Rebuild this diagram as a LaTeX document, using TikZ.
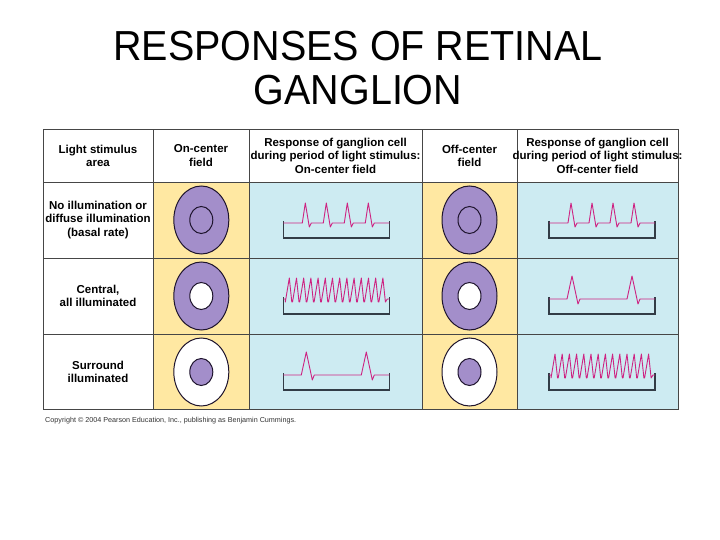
\documentclass[tikz,border=0pt]{standalone}
\usepackage{fontspec}
\setmainfont{Liberation Sans}
\usepackage{xcolor}
\usepackage{tikz}
\usetikzlibrary{shapes.geometric}

\definecolor{cellyellow}{RGB}{255,232,162}
\definecolor{cellblue}{RGB}{205,235,242}
\definecolor{cellpurple}{RGB}{163,142,202}
\definecolor{gridgray}{RGB}{70,70,70}
\definecolor{ringline}{RGB}{30,20,45}
\definecolor{spikepink}{RGB}{205,35,130}
\definecolor{axisgray}{RGB}{50,60,70}

\begin{document}
\begin{tikzpicture}[
    x=1pt, y=-1pt,
    head/.style={font=\fontsize{11.5}{13.6}\selectfont\bfseries, align=center, inner sep=0pt},
    rowtext/.style={head},
    ring/.style={ellipse, draw=ringline, line width=1pt, inner sep=0pt,
                 minimum width=55pt, minimum height=68pt},
    core/.style={ellipse, draw=ringline, line width=1pt, inner sep=0pt,
                 minimum width=23pt, minimum height=27pt},
    grid/.style={draw=gridgray, line width=0.8pt},
    axis/.style={draw=axisgray, line width=1.2pt},
    trace/.style={draw=spikepink, line width=0.9pt, line join=round},
    basal/.pic={
        \draw[axis] (0,1) -- (0,18) -- (106,18) -- (106,1);
        \draw[trace] (0,3) foreach \s in {22,43,64,85} {
            -- (\s-3,3) -- (\s,-17) -- (\s+4,7) -- (\s+6,3) } -- (106,3);
    },
    sparse/.pic={
        \draw[axis] (0,1) -- (0,18) -- (106,18) -- (106,1);
        \draw[trace] (0,3) foreach \s in {23,83} {
            -- (\s-5,3) -- (\s,-20) -- (\s+6,8) -- (\s+8,3) } -- (106,3);
    },
    burst/.pic={
        \draw[axis] (0,1) -- (0,18) -- (106,18) -- (106,1);
        \draw[trace] (0,3) -- (2,3) foreach \i in {0,...,13} {
            -- ({6+7.2*\i-4},6) -- ({6+7.2*\i},-18) -- ({6+7.2*\i+2.5},6) }
            -- (104,3) -- (106,3);
    },
]
\useasboundingbox (0,0) rectangle (720,540);
\fill[white] (0,0) rectangle (720,540);

% =============================================
% Title
% =============================================
\node[font=\fontsize{42}{44}\selectfont, align=center] at (358,68) (title)
    {\scalebox{0.94}[1]{RESPONSES OF RETINAL}\\\scalebox{0.94}[1]{GANGLION}};

% =============================================
% Cell colours and grid
% =============================================
\fill[cellyellow] (153,182) rectangle (249,409.5);
\fill[cellyellow] (422,182) rectangle (517,409.5);
\fill[cellblue] (249,182) rectangle (422,409.5);
\fill[cellblue] (517,182) rectangle (678,409.5);

\foreach \xx in {153,249,422,517}
    \draw[grid] (\xx,129.5) -- (\xx,409.5);
\foreach \yy in {182,258,334}
    \draw[grid] (43,\yy) -- (678,\yy);
\draw[grid] (43,129.5) rectangle (678,409.5);

% =============================================
% Header row
% =============================================
\node[head] at (98,155.75) (h_area) {Light stimulus\\area};
\node[head] at (201,155.75) (h_on) {On-center\\field};
\node[head] at (335.5,155.75) (h_onresp)
    {Response of ganglion cell\\during period of light stimulus:\\On-center field};
\node[head] at (469.5,155.75) (h_off) {Off-center\\field};
\node[head] at (597.5,155.75) (h_offresp)
    {Response of ganglion cell\\during period of light stimulus:\\Off-center field};

% =============================================
% Row labels
% =============================================
\node[rowtext] at (98,220) (r_basal) {No illumination or\\diffuse illumination\\(basal rate)};
\node[rowtext] at (98,296) (r_center) {Central,\\all illuminated};
\node[rowtext] at (98,372) (r_surround) {Surround\\illuminated};

% =============================================
% Receptive fields
% =============================================
\foreach \cx/\nm in {201.3/on, 469.5/off} {
    % diffuse
    \node[ring, fill=cellpurple] at (\cx,220) (\nm_ring1) {};
    \node[core] at (\cx,220) (\nm_core1) {};
    % central light
    \node[ring, fill=cellpurple] at (\cx,296) (\nm_ring2) {};
    \node[core, fill=white] at (\cx,296) (\nm_core2) {};
    % surround light
    \node[ring, fill=white] at (\cx,372) (\nm_ring3) {};
    \node[core, fill=cellpurple] at (\cx,372) (\nm_core3) {};
}

% =============================================
% Spike trains
% =============================================
\pic at (283.3,220) {basal};
\pic at (283.3,296) {burst};
\pic at (283.3,372) {sparse};

\pic at (549,220) {basal};
\pic at (549,296) {sparse};
\pic at (549,372) {burst};

% Copyright line
\node[font=\fontsize{7.2}{8}\selectfont, text=black!80, anchor=west, inner sep=0pt] at (45,421) (credit)
    {Copyright \textcopyright{} 2004 Pearson Education, Inc., publishing as Benjamin Cummings.};

\end{tikzpicture}
\end{document}
